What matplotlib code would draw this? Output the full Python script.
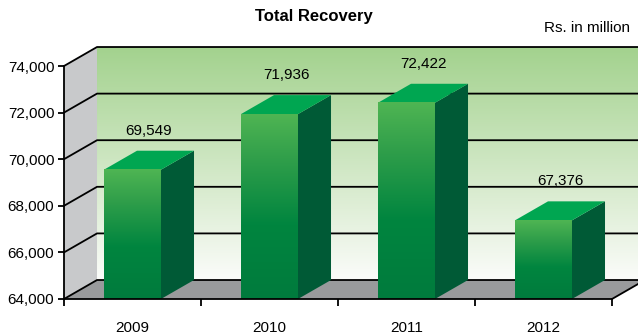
"""
Total Recovery (Rs. in million), 2009-2012, drawn as pseudo-3D bars.
"""

import numpy as np
import matplotlib.pyplot as plt
from matplotlib.colors import LinearSegmentedColormap
from matplotlib.patches import Polygon

plt.rcParams.update({
    "font.family": ["Liberation Sans", "DejaVu Sans"],
    "font.size": 11,
})

# ---------------------------------------------------------------------
# Data
# ---------------------------------------------------------------------

years = ["2009", "2010", "2011", "2012"]
recovery = [69549, 71936, 72422, 67376]
y_ticks = [64000, 66000, 68000, 70000, 72000, 74000]

# ---------------------------------------------------------------------
# Style / geometry
# ---------------------------------------------------------------------

Y_MIN, Y_MAX = 64000, 74000
DEPTH_X = 0.241       # oblique depth offset, category units
DEPTH_Y = 815         # oblique depth offset, value units
BAR_HALF = 0.208

WALL_GRAY = "#c8c9cb"
FLOOR_GRAY = "#999a9c"
TOP_GREEN = "#00a651"
SIDE_GREEN = "#005a36"

bar_cmap = LinearSegmentedColormap.from_list(
    "bar", [(0, "#007b3d"), (0.4, "#00853f"), (0.75, "#2f9e4a"), (1, "#4fb553")]
)
wall_cmap = LinearSegmentedColormap.from_list(
    "wall", [(0, "#fbfcfa"), (0.35, "#dcedd3"), (1, "#a3d28e")]
)
gradient = np.linspace(0, 1, 256).reshape(-1, 1)

# ---------------------------------------------------------------------
# Figure
# ---------------------------------------------------------------------

fig = plt.figure(figsize=(6.38, 3.35), dpi=100)
ax = fig.add_axes([64 / 638, 36 / 335, 548 / 638, 233 / 335])
ax.set_facecolor("none")

x0, x1 = -0.5, len(years) - 0.5

# back wall with vertical gradient
ax.imshow(gradient, cmap=wall_cmap, origin="lower", aspect="auto",
          extent=(x0 + DEPTH_X, x1 + DEPTH_X, Y_MIN + DEPTH_Y, Y_MAX + DEPTH_Y),
          clip_on=False, zorder=0)

# left side wall
ax.add_patch(Polygon([(x0, Y_MIN), (x0, Y_MAX), (x0 + DEPTH_X, Y_MAX + DEPTH_Y),
                      (x0 + DEPTH_X, Y_MIN + DEPTH_Y)],
                     facecolor=WALL_GRAY, edgecolor="none", clip_on=False, zorder=1))

# floor
ax.add_patch(Polygon([(x0, Y_MIN), (x1, Y_MIN), (x1 + DEPTH_X, Y_MIN + DEPTH_Y),
                      (x0 + DEPTH_X, Y_MIN + DEPTH_Y)],
                     facecolor=FLOOR_GRAY, edgecolor="none", clip_on=False, zorder=1))

# gridlines on the back wall and diagonals on the side wall
for v in y_ticks:
    ax.plot([x0, x0 + DEPTH_X, x1 + DEPTH_X], [v, v + DEPTH_Y, v + DEPTH_Y],
            color="black", linewidth=1.3, clip_on=False, zorder=2)
ax.plot([x1, x1 + DEPTH_X], [Y_MIN, Y_MIN + DEPTH_Y],
        color="black", linewidth=1.3, clip_on=False, zorder=2)

# bars
for i, value in enumerate(recovery):
    xl, xr = i - BAR_HALF, i + BAR_HALF
    ax.add_patch(Polygon([(xr, Y_MIN), (xr + DEPTH_X, Y_MIN + DEPTH_Y),
                          (xr + DEPTH_X, value + DEPTH_Y), (xr, value)],
                         facecolor=SIDE_GREEN, edgecolor="none", clip_on=False, zorder=3))
    ax.add_patch(Polygon([(xl, value), (xr, value), (xr + DEPTH_X, value + DEPTH_Y),
                          (xl + DEPTH_X, value + DEPTH_Y)],
                         facecolor=TOP_GREEN, edgecolor="none", clip_on=False, zorder=3))
    ax.imshow(gradient, cmap=bar_cmap, origin="lower", aspect="auto",
              extent=(xl, xr, Y_MIN, value), clip_on=False, zorder=3)
    ax.text(i + DEPTH_X / 2, value + DEPTH_Y + 860, f"{value:,}",
            ha="center", va="center", fontsize=11, zorder=4)

ax.set_xlim(x0, x1)
ax.set_ylim(Y_MIN, Y_MAX)

# axes and ticks
for side in ("top", "right"):
    ax.spines[side].set_visible(False)
for side in ("left", "bottom"):
    ax.spines[side].set_linewidth(1.3)
    ax.spines[side].set_zorder(5)

ax.set_yticks(y_ticks)
ax.set_yticklabels([f"{v:,}" for v in y_ticks])
ax.tick_params(axis="y", direction="out", length=4, width=1.3, pad=3, labelsize=11)

ax.set_xticks(np.arange(x0, x1 + 0.01, 1.0))
ax.set_xticklabels([])
ax.set_xticks(range(len(years)), minor=True)
ax.set_xticklabels(years, minor=True)
ax.tick_params(axis="x", which="major", direction="out", length=5, width=1.3)
ax.tick_params(axis="x", which="minor", length=0, pad=16, labelsize=11)

fig.text(314 / 638, 1 - 17 / 335, "Total Recovery", ha="center", va="center",
         fontsize=12, fontweight="bold")
fig.text(630 / 638, 1 - 28 / 335, "Rs. in million", ha="right", va="center",
         fontsize=11)

fig.savefig("out.png", dpi=100)
